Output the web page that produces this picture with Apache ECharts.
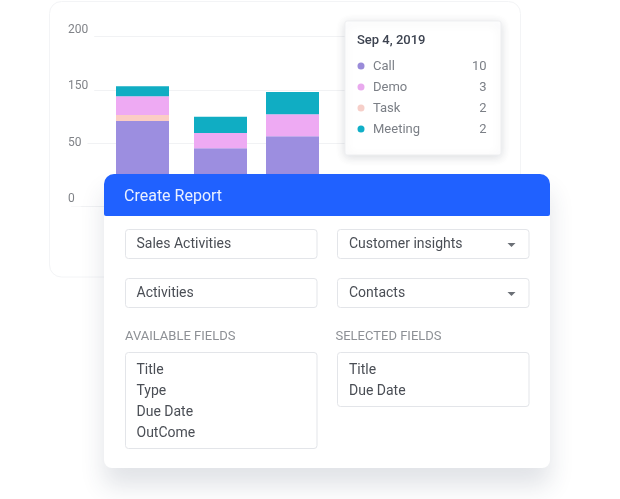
<!DOCTYPE html>
<html lang="en" style="height: 100%">
<head>
    <meta charset="utf-8">
</head>
<body style="height: 100%; margin: 0; background: #fff">
<div id="container" style="width: 620px; height: 499px"></div>
<script src="https://cdn.jsdelivr.net/npm/echarts@6/dist/echarts.min.js"></script>
<script>
    // chart data
    var dates = ['2019-09-04', '2019-09-17', '2019-09-29'];
    var call = [100, 68, 82];
    var task = [7, 0, 0];
    var demo = [22, 18, 26];
    var meeting = [12, 19, 26];
    var gridValues = [0, 74, 136, 200];
    var tickLabels = ['0', '50', '150', '200'];

    // tooltip card
    var tipTitle = 'Sep 4, 2019';
    var tipNames = ['Call', 'Demo', 'Task', 'Meeting'];
    var tipValues = [10, 3, 2, 2];
    var tipColors = ['#9a8bd9', '#e9aaee', '#f6cfc9', '#10afc7'];

    // form texts
    var formTitle = 'Create Report';
    var inputsLeft = ['Sales Activities', 'Activities'];
    var inputsRight = ['Customer insights', 'Contacts'];
    var availableFields = ['Title', 'Type', 'Due Date', 'OutCome'];
    var selectedFields = ['Title', 'Due Date'];

    var FONT = 'Roboto';
    var myChart = echarts.init(document.getElementById('container'));

    function pairs(values) {
        return values.map(function (v, i) { return [dates[i], v]; });
    }
    function bar(name, values, color) {
        return {
            name: name,
            type: 'bar',
            stack: 'total',
            barWidth: 53,
            itemStyle: { color: color },
            data: pairs(values)
        };
    }
    function text(x, y, str, size, color, z, extra) {
        return {
            type: 'text', x: x, y: y + 1, z: z,
            style: Object.assign({
                text: str, fill: color, fontSize: size, fontFamily: FONT,
                verticalAlign: 'middle', align: 'left'
            }, extra || {})
        };
    }
    function box(x, y, w, h, z, style, r) {
        return {
            type: 'rect', z: z,
            shape: { x: x, y: y, width: w, height: h, r: r },
            style: style
        };
    }
    function arrow(cx, cy, z) {
        return {
            type: 'polygon', z: z,
            shape: { points: [[cx - 4, cy - 2], [cx + 4, cy - 2], [cx, cy + 2]] },
            style: { fill: '#6b6f76' }
        };
    }

    var inputStyle = { fill: '#fff', stroke: '#e3e5e9', lineWidth: 1 };
    var inkColor = '#4a4e55';
    var graphics = [];

    // outer chart card
    graphics.push(box(49.5, 1.5, 471, 275.5, 1, { fill: 'none', stroke: '#f3f4f6', lineWidth: 1 }, 12));

    // tooltip card
    graphics.push(box(345, 21, 156, 134, 100, {
        fill: '#fff', stroke: '#eeeff1', lineWidth: 1,
        shadowBlur: 10, shadowColor: 'rgba(40,50,70,0.16)', shadowOffsetY: 2
    }, 2));
    graphics.push(text(357, 39.5, tipTitle, 13, '#3d4350', 101, { fontWeight: 500 }));
    tipNames.forEach(function (name, i) {
        var y = 66 + i * 21;
        graphics.push({
            type: 'circle', z: 101,
            shape: { cx: 361, cy: y, r: 3.5 },
            style: { fill: tipColors[i] }
        });
        graphics.push(text(373, y, name, 13, '#7b7f86', 101));
        graphics.push(text(486.5, y, String(tipValues[i]), 13, '#7b7f86', 101, { align: 'right' }));
    });

    // report form panel
    graphics.push(box(104, 174, 446, 294, 110, {
        fill: '#fff',
        shadowBlur: 24, shadowColor: 'rgba(45,55,85,0.14)', shadowOffsetY: 18
    }, 8));
    graphics.push(box(104, 174, 446, 42, 111, { fill: '#2061ff' }, [10, 10, 2, 2]));
    graphics.push(text(124, 195.5, formTitle, 16, '#eaf0ff', 112));

    inputsLeft.forEach(function (str, i) {
        var y = 229.5 + i * 49;
        graphics.push(box(125.5, y, 191.5, 29, 112, inputStyle, 3));
        graphics.push(text(136.5, y + 14, str, 14, inkColor, 113));
    });
    inputsRight.forEach(function (str, i) {
        var y = 229.5 + i * 49;
        graphics.push(box(337.5, y, 191.5, 29, 112, inputStyle, 3));
        graphics.push(text(349, y + 14, str, 14, inkColor, 113));
        graphics.push(arrow(511.5, y + 15.5, 113));
    });

    graphics.push(text(125, 335.5, 'AVAILABLE FIELDS', 13, '#8d9095', 112));
    graphics.push(text(335.5, 335.5, 'SELECTED FIELDS', 13, '#8d9095', 112));
    graphics.push(box(125.5, 352.5, 191.5, 96, 112, inputStyle, 3));
    graphics.push(box(337.5, 352.5, 191.5, 54, 112, inputStyle, 3));
    availableFields.forEach(function (str, i) {
        graphics.push(text(136.5, 369 + i * 21, str, 14, inkColor, 113));
    });
    selectedFields.forEach(function (str, i) {
        graphics.push(text(349, 369 + i * 21, str, 14, inkColor, 113));
    });

    var option = {
        animation: false,
        backgroundColor: '#fff',
        grid: [
            { left: 71, width: 329, top: 36, height: 170 },
            { left: 68, width: 329, top: 30, height: 169 }
        ],
        xAxis: [
            // echarts widens a time axis by half a bar each side, so the range is 46 days
            { type: 'time', gridIndex: 0, min: '2019-08-27 12:00', max: '2019-10-12 12:00', show: false },
            { type: 'value', gridIndex: 1, show: false }
        ],
        yAxis: [
            {
                type: 'value', gridIndex: 0, min: 0, max: 200,
                axisLine: { show: false },
                axisTick: { show: false, customValues: gridValues },
                axisLabel: { show: false, customValues: gridValues },
                splitLine: { show: true, lineStyle: { color: '#f1f2f4', width: 1 } }
            },
            {
                // printed labels are evenly spaced, unlike the gridlines
                type: 'category', gridIndex: 1, boundaryGap: false, data: tickLabels, z: 5,
                axisLine: { show: false },
                axisTick: { show: false },
                splitLine: { show: false },
                axisLabel: {
                    inside: true, margin: 0, interval: 0, align: 'left',
                    color: '#808388', fontSize: 12, fontFamily: FONT,
                    backgroundColor: '#fff', padding: [0, 6, 3, 0]
                }
            }
        ],
        series: [
            bar('Call', call, '#9c8ee0'),
            bar('Task', task, '#fbcdc4'),
            bar('Demo', demo, '#eeaaf3'),
            bar('Meeting', meeting, '#10adc3')
        ],
        graphic: { elements: graphics }
    };

    myChart.setOption(option);
</script>
</body>
</html>
